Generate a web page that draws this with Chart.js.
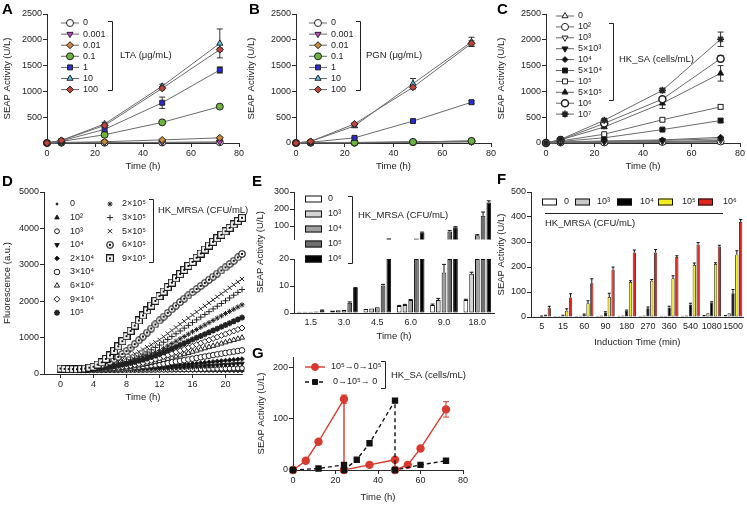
<!DOCTYPE html>
<html>
<head>
<meta charset="utf-8">
<title>SEAP reporter panels</title>
<script src="https://cdn.jsdelivr.net/npm/chart.js@4.4.1/dist/chart.umd.min.js"></script>
<style>
  html, body { margin: 0; padding: 0; background: #fff; }
  body { position: relative; width: 747px; height: 505px; overflow: hidden;
         font-family: "Liberation Sans", Arial, Helvetica, sans-serif; }
  canvas { position: absolute; }
  .tag { position: absolute; font-size: 15px; font-weight: bold; color: #000; line-height: 15px; }
</style>
</head>
<body>
<canvas id="chartA"></canvas>
<canvas id="chartB"></canvas>
<canvas id="chartC"></canvas>
<canvas id="chartD"></canvas>
<canvas id="chartEbot"></canvas>
<canvas id="chartEtop"></canvas>
<canvas id="chartF"></canvas>
<canvas id="chartG"></canvas>
<div class="tag" style="left:2px;top:1px">A</div>
<div class="tag" style="left:249px;top:1px">B</div>
<div class="tag" style="left:497px;top:1px">C</div>
<div class="tag" style="left:2px;top:173px">D</div>
<div class="tag" style="left:252px;top:173px">E</div>
<div class="tag" style="left:497px;top:171px">F</div>
<div class="tag" style="left:252px;top:345px">G</div>
<script>
// ---- data ----
const abcTimes = [0, 6, 24, 48, 72];

const ltaLabels = ['0', '0.001', '0.01', '0.1', '1', '10', '100'];
const ltaValues = [
  [0, 5, 5, 10, 15],
  [0, 5, 8, 12, 20],
  [0, 10, 25, 60, 100],
  [0, 30, 160, 400, 705],
  [0, 40, 265, 780, 1415],
  [0, 50, 370, 1100, 1930],
  [0, 50, 340, 1060, 1810]
];
const ltaErrors = [
  [0, 0, 0, 0, 0],
  [0, 0, 0, 0, 0],
  [0, 0, 0, 10, 15],
  [0, 0, 15, 20, 30],
  [0, 0, 40, 110, 60],
  [0, 0, 30, 40, 280],
  [0, 0, 20, 30, 30]
];

const pgnLabels = ['0', '0.001', '0.01', '0.1', '1', '10', '100'];
const pgnValues = [
  [0, 5, 5, 15, 30],
  [0, 5, 5, 15, 20],
  [0, 10, 10, 20, 40],
  [0, 10, 10, 20, 40],
  [0, 15, 100, 425, 790],
  [0, 30, 330, 1150, 1960],
  [0, 30, 370, 1080, 1930]
];
const pgnErrors = [
  [0, 0, 0, 0, 0],
  [0, 0, 0, 0, 0],
  [0, 0, 0, 0, 0],
  [0, 0, 0, 0, 0],
  [0, 0, 10, 20, 30],
  [0, 0, 30, 100, 90],
  [0, 0, 20, 30, 50]
];

const saLabels = ['0', '10²', '10³', '5×10³', '10⁴', '5×10⁴', '10⁵', '5×10⁵', '10⁶', '10⁷'];
const saValues = [
  [0, 5, 5, 10, 15],
  [0, 10, 10, 20, 30],
  [0, 10, 20, 30, 50],
  [0, 15, 30, 50, 80],
  [0, 20, 40, 60, 110],
  [0, 30, 100, 260, 435],
  [0, 40, 170, 450, 700],
  [0, 60, 310, 770, 1350],
  [0, 60, 380, 850, 1635],
  [0, 70, 440, 1020, 2010]
];
const saErrors = [
  [0, 0, 0, 0, 0],
  [0, 0, 0, 0, 0],
  [0, 0, 0, 0, 0],
  [0, 0, 0, 0, 0],
  [0, 0, 0, 0, 0],
  [0, 0, 10, 20, 40],
  [0, 0, 15, 30, 40],
  [0, 0, 20, 100, 150],
  [0, 0, 20, 40, 60],
  [0, 0, 20, 40, 140]
];

// D: fluorescence kinetics, every 0.5 h
const dTimes = [0, 0.5, 1, 1.5, 2, 2.5, 3, 3.5, 4, 4.5, 5, 5.5, 6, 6.5, 7, 7.5, 8, 8.5, 9, 9.5,
  10, 10.5, 11, 11.5, 12, 12.5, 13, 13.5, 14, 14.5, 15, 15.5, 16, 16.5, 17, 17.5, 18, 18.5, 19, 19.5,
  20, 20.5, 21, 21.5, 22];
const dXTicks = [0, 4, 8, 12, 16, 20];
const dLabels = ['0', '10²', '10³', '10⁴', '2×10⁴', '3×10⁴', '6×10⁴', '9×10⁴', '10⁵',
  '2×10⁵', '3×10⁵', '5×10⁵', '6×10⁵', '9×10⁵'];
const dS0 = [110,105, 100,98, 96,95, 94,93, 92,91,
  90,89, 88,87, 86,86, 85,85, 84,83,
  82,82, 81,81, 80,80, 79,79, 78,77,
  76,76, 75,75, 74,74, 73,73, 72,72,
  71,71, 70,69, 68];
const dS1 = [110,107, 105,102, 100,100, 100,100, 100,100,
  100,100, 100,100, 100,100, 100,100, 100,100,
  100,100, 100,101, 102,102, 102,103, 104,104,
  104,104, 105,105, 106,106, 107,107, 108,108,
  108,108, 109,109, 110];
const dS2 = [115,111, 108,106, 104,103, 102,102, 102,102,
  102,102, 103,103, 104,105, 106,107, 108,109,
  110,111, 112,113, 115,116, 118,120, 122,124,
  126,128, 130,132, 134,136, 139,141, 144,146,
  149,151, 154,157, 160];
const dS3 = [120,115, 110,108, 106,105, 105,105, 106,107,
  108,110, 112,114, 116,118, 121,124, 127,130,
  134,138, 142,146, 151,156, 161,166, 172,178,
  184,190, 197,204, 211,218, 226,233, 241,248,
  256,264, 272,281, 290];
const dS4 = [125,118, 112,110, 108,108, 108,109, 110,112,
  114,117, 120,124, 128,133, 138,144, 150,157,
  164,172, 180,188, 197,206, 216,226, 236,246,
  257,268, 279,290, 302,313, 325,336, 348,359,
  370,381, 392,402, 412];
const dS5 = [130,122, 115,112, 110,110, 111,113, 115,119,
  123,129, 135,142, 150,160, 170,181, 193,205,
  218,231, 244,258, 272,288, 305,323, 342,361,
  380,400, 420,440, 460,480, 500,520, 540,559,
  578,596, 615,632, 650];
const dS6 = [130,124, 118,115, 112,113, 114,116, 118,122,
  126,132, 138,146, 155,167, 180,196, 212,232,
  252,276, 300,327, 355,385, 415,447, 480,512,
  545,577, 610,642, 675,707, 740,772, 805,837,
  870,902, 935,967, 1000];
const dS7 = [135,127, 120,117, 114,115, 116,121, 126,133,
  140,148, 157,168, 180,196, 212,233, 255,281,
  308,339, 370,405, 440,480, 520,560, 600,641,
  683,724, 766,807, 849,890, 932,973, 1015,1056,
  1098,1139, 1181,1222, 1264];
const dS8 = [135,128, 122,120, 118,121, 124,131, 138,149,
  160,176, 192,211, 230,252, 275,302, 330,361,
  393,429, 465,505, 545,595, 645,695, 745,795,
  845,895, 945,995, 1045,1095, 1145,1195, 1245,1295,
  1345,1396, 1448,1499, 1550];
const dS9 = [140,132, 125,122, 120,124, 128,136, 145,158,
  172,190, 210,234, 260,289, 320,354, 390,428,
  468,510, 552,596, 640,705, 770,835, 900,965,
  1030,1095, 1160,1222, 1285,1347, 1410,1472, 1535,1597,
  1660,1720, 1780,1840, 1900];
const dS10 = [140,133, 126,124, 122,127, 132,140, 148,160,
  172,190, 210,236, 265,301, 340,386, 435,489,
  545,604, 665,729, 795,872, 950,1027, 1105,1182,
  1260,1336, 1412,1487, 1562,1637, 1712,1787, 1862,1937,
  2012,2088, 2165,2242, 2320];
const dS11 = [140,134, 128,126, 125,131, 138,151, 165,186,
  208,238, 268,306, 345,392, 440,495, 550,611,
  672,737, 802,870, 938,1024, 1110,1195, 1280,1365,
  1450,1535, 1620,1705, 1790,1872, 1955,2037, 2120,2202,
  2285,2367, 2450,2530, 2610];
const dS12 = [145,137, 130,129, 128,136, 145,165, 185,217,
  250,295, 340,405, 470,550, 630,725, 820,925,
  1030,1140, 1250,1360, 1470,1575, 1680,1780, 1880,1975,
  2070,2160, 2250,2335, 2420,2505, 2590,2675, 2760,2845,
  2930,3020, 3110,3205, 3300];
const dS13 = [150,142, 135,133, 132,141, 150,175, 200,260,
  320,415, 510,635, 760,900, 1040,1185, 1330,1470,
  1610,1745, 1880,2010, 2140,2265, 2390,2510, 2630,2745,
  2860,2970, 3080,3195, 3310,3420, 3530,3630, 3730,3825,
  3920,4015, 4110,4200, 4290];
const dSeries = [dS0, dS1, dS2, dS3, dS4, dS5, dS6, dS7, dS8, dS9, dS10, dS11, dS12, dS13];

// E: broken axis bars
const eCats = ['1.5', '3.0', '4.5', '6.0', '9.0', '18.0'];
const eLabels = ['0', '10³', '10⁴', '10⁵', '10⁶'];
const e0 = [0.5, 0.9, 1.5, 2.6, 3.0, 4.8];
const e3 = [0.5, 1.0, 1.7, 3.0, 4.8, 14.5];
const e4 = [0.5, 1.1, 2.1, 4.8, 15.0, 45];
const e5 = [0.6, 3.8, 10.2, 26, 68, 160];
const e6 = [1.0, 9.3, 28, 60, 92, 238];
const e0Err = [0, 0, 0, 0.2, 0.3, 0.3];
const e3Err = [0, 0, 0, 0.2, 0.6, 0.6];
const e4Err = [0, 0, 0, 0.2, 3, 4];
const e5Err = [0, 0.3, 0.4, 0, 5, 22];
const e6Err = [0.1, 0.1, 0, 4, 4, 10];
const eBreak = 20;

// F: induction time bars
const fCats = ['5', '15', '60', '90', '180', '270', '360', '540', '1080', '1500'];
const fLabels = ['0', '10³', '10⁴', '10⁵', '10⁶'];
const f0 = [3, 4, 4, 5, 5, 5, 5, 5, 8, 8];
const f3 = [3, 4, 5, 6, 6, 6, 5, 6, 15, 15];
const f4 = [3, 5, 10, 18, 25, 35, 38, 50, 58, 95];
const f5 = [5, 25, 55, 80, 140, 145, 155, 208, 212, 250];
const f6 = [35, 78, 135, 190, 258, 258, 240, 290, 282, 380];
const f4Err = [1, 2, 2, 3, 3, 5, 5, 5, 3, 15];
const f5Err = [2, 8, 10, 15, 5, 5, 10, 8, 5, 15];
const f6Err = [8, 15, 18, 10, 10, 12, 5, 8, 5, 10];

// G: switching experiment
const gRedTimes = [0, 6, 12, 24, 24, 36, 48, 48, 54, 60, 72];
const gRedValues = [0, 18, 55, 138, 0, 10, 20, 0, 10, 42, 118];
const gRedErrors = [0, 0, 0, 8, 0, 0, 0, 0, 0, 0, 15];
const gBlackTimes = [0, 12, 24, 24, 30, 36, 48, 48, 60, 72];
const gBlackValues = [0, 3, 10, 0, 20, 52, 135, 0, 10, 18];
const gYTicks = [0, 100, 200];

// ---- drawing ----
const FONT = '"Liberation Sans", Arial, Helvetica, sans-serif';
const AXIS = '#2a2a2a', TXT = '#222', RED = '#d93a2f';
Chart.defaults.font.family = FONT;
Chart.defaults.color = TXT;
Chart.defaults.animation = false;
Chart.defaults.plugins.legend.display = false;
Chart.defaults.plugins.tooltip.enabled = false;

const drawPoint = (Chart.helpers && Chart.helpers.drawPoint) ? Chart.helpers.drawPoint : function (ctx, o, x, y) {
  ctx.beginPath(); ctx.arc(x, y, o.radius, 0, Math.PI * 2); ctx.fill(); ctx.stroke();
};

function dotted(shape) {
  const c = document.createElement('canvas');
  c.width = 8; c.height = 8;
  const g = c.getContext('2d');
  g.fillStyle = '#fff'; g.strokeStyle = '#111'; g.lineWidth = 1.1;
  if (shape === 'circle') {
    g.beginPath(); g.arc(4, 4, 3.2, 0, Math.PI * 2); g.fill(); g.stroke();
  } else {
    g.fillRect(0.6, 0.6, 6.8, 6.8); g.strokeRect(0.6, 0.6, 6.8, 6.8);
  }
  g.fillStyle = '#111'; g.fillRect(3, 3, 2, 2);
  return c;
}

const abStyles = [
  {ps: 'circle', fill: '#ffffff'},
  {ps: 'triangle', rot: 180, fill: '#d442d4'},
  {ps: 'rectRot', fill: '#c48a3a'},
  {ps: 'circle', fill: '#6cb33f'},
  {ps: 'rect', fill: '#2b2bd6'},
  {ps: 'triangle', fill: '#5fc6ee'},
  {ps: 'rectRot', fill: '#c0433a'}
];
const cStyles = [
  {ps: 'triangle', fill: '#fff'},
  {ps: 'circle', fill: '#fff'},
  {ps: 'triangle', rot: 180, fill: '#fff'},
  {ps: 'triangle', rot: 180, fill: '#111'},
  {ps: 'rectRot', r: 3, fill: '#111'},
  {ps: 'rect', fill: '#111'},
  {ps: 'rect', fill: '#fff'},
  {ps: 'triangle', fill: '#111'},
  {ps: 'circle', fill: '#fff', bw: 1.5},
  {ps: 'star', fill: '#111', bw: 1.6}
];
const dStyles = [
  {ps: 'circle', r: 1, fill: '#111'},
  {ps: 'triangle', r: 2.6, fill: '#111'},
  {ps: 'circle', r: 2.4, fill: '#fff'},
  {ps: 'triangle', rot: 180, r: 2.6, fill: '#111'},
  {ps: 'rectRot', r: 2.3, fill: '#111'},
  {ps: 'circle', r: 2.8, fill: '#fff'},
  {ps: 'triangle', r: 3, fill: '#fff'},
  {ps: 'rectRot', r: 3, fill: '#fff'},
  {ps: 'star', r: 3, fill: '#111', bw: 1.6},
  {ps: 'star', r: 2.6, fill: '#111'},
  {ps: 'cross', r: 3, fill: '#111'},
  {ps: 'crossRot', r: 3, fill: '#111'},
  {ps: dotted('circle'), r: 4, fill: '#fff'},
  {ps: dotted('square'), r: 4, fill: '#fff'}
];
const eFills = ['#ffffff', '#d4d4d4', '#a0a0a0', '#6e6e6e', '#000000'];
const fFills = ['#ffffff', '#c8c8c8', '#000000', '#f2ee1f', '#e0241b'];

function pointOpts(st) {
  return {
    pointStyle: st.ps, pointRadius: st.r || 3.5, pointRotation: st.rot || 0,
    pointBackgroundColor: st.fill, pointBorderColor: st.stroke || '#222',
    pointBorderWidth: st.bw || 1, pointHoverRadius: st.r || 3.5
  };
}

function linAxis(min, max, step, title, fixed, hideZero) {
  const a = {
    type: 'linear', min: min, max: max,
    ticks: {stepSize: step, color: TXT, font: {size: 9}, padding: 1,
      callback: v => (hideZero && v === 0) ? '' : String(v)},
    border: {display: true, color: AXIS, width: 1},
    grid: {drawOnChartArea: false, tickLength: 4, color: AXIS},
    title: {display: !!title, text: title, color: TXT, font: {size: 9.5}, padding: {top: 2, bottom: 1}}
  };
  if (fixed) a.afterBuildTicks = s => { s.ticks = fixed.map(v => ({value: v})); };
  return a;
}

function catAxis(title) {
  return {
    type: 'category',
    ticks: {color: TXT, font: {size: 9}, padding: 4, autoSkip: false, maxRotation: 0},
    border: {display: true, color: AXIS, width: 1},
    grid: {display: false, drawOnChartArea: false, drawTicks: false},
    title: {display: !!title, text: title, color: TXT, font: {size: 9.5}, padding: {top: 2, bottom: 1}}
  };
}

// error bars drawn through the chart scales
const errorBars = {
  id: 'errorBars',
  beforeDatasetsDraw(chart) {
    const ctx = chart.ctx;
    chart.data.datasets.forEach((ds, i) => {
      if (!ds.errors) return;
      const meta = chart.getDatasetMeta(i);
      const ys = chart.scales[meta.yAxisID];
      ctx.save();
      ctx.strokeStyle = ds.errColor || '#222';
      ctx.lineWidth = 1;
      meta.data.forEach((el, j) => {
        const e = ds.errors[j];
        const raw = ds.data[j];
        const v = (raw && typeof raw === 'object') ? raw.y : raw;
        if (!e || v == null) return;
        const cap = ds.errCap || 3;
        const x = el.x;
        const y1 = ys.getPixelForValue(v + e);
        const y0 = ds.errUp ? el.y : ys.getPixelForValue(v - e);
        ctx.beginPath();
        ctx.moveTo(x, y0); ctx.lineTo(x, y1);
        ctx.moveTo(x - cap, y1); ctx.lineTo(x + cap, y1);
        if (!ds.errUp) { ctx.moveTo(x - cap, y0); ctx.lineTo(x + cap, y0); }
        ctx.stroke();
      });
      ctx.restore();
    });
  }
};

// custom legends, brackets and free texts (page coordinates)
const legends = {};
const panelLegend = {
  id: 'panelLegend',
  afterDraw(chart) {
    const L = legends[chart.canvas.id];
    if (!L) return;
    const ctx = chart.ctx;
    ctx.save();
    ctx.translate(-L.ox, -L.oy);
    ctx.font = (L.size || 9) + 'px ' + FONT;
    ctx.textBaseline = 'middle';
    ctx.textAlign = 'left';
    (L.marks || []).forEach(m => {
      if (m.line) {
        ctx.strokeStyle = m.line; ctx.lineWidth = m.lw || 1; ctx.setLineDash(m.dash || []);
        ctx.beginPath(); ctx.moveTo(m.x - (m.half || 9), m.y); ctx.lineTo(m.x + (m.half || 9), m.y); ctx.stroke();
        ctx.setLineDash([]);
      }
      if (m.box) {
        ctx.fillStyle = m.fill; ctx.fillRect(m.x, m.y - m.box[1] / 2, m.box[0], m.box[1]);
        ctx.strokeStyle = '#111'; ctx.lineWidth = 1;
        ctx.strokeRect(m.x + 0.5, m.y - m.box[1] / 2 + 0.5, m.box[0] - 1, m.box[1] - 1);
      } else if (m.st) {
        ctx.fillStyle = m.st.fill || '#111';
        ctx.strokeStyle = m.st.stroke || '#222';
        ctx.lineWidth = m.st.bw || 1;
        drawPoint(ctx, {pointStyle: m.st.ps, radius: m.st.r || 3.5, rotation: m.st.rot || 0,
          borderWidth: m.st.bw || 1}, m.x, m.y);
      }
      if (m.text) { ctx.fillStyle = TXT; ctx.fillText(m.text, m.tx, m.y); }
    });
    ctx.strokeStyle = '#222'; ctx.lineWidth = 1;
    (L.brackets || []).forEach(b => {
      ctx.beginPath();
      ctx.moveTo(b.x - 4, b.y1 + 0.5); ctx.lineTo(b.x + 0.5, b.y1 + 0.5);
      ctx.lineTo(b.x + 0.5, b.y2 + 0.5); ctx.lineTo(b.x - 4, b.y2 + 0.5);
      ctx.stroke();
    });
    (L.segs || []).forEach(s => {
      ctx.beginPath(); ctx.moveTo(s[0], s[1]); ctx.lineTo(s[2], s[3]); ctx.stroke();
    });
    ctx.font = '9.5px ' + FONT;
    ctx.fillStyle = TXT;
    (L.texts || []).forEach(t => ctx.fillText(t.text, t.x, t.y));
    (L.vtexts || []).forEach(t => {
      ctx.save(); ctx.translate(t.x, t.y); ctx.rotate(-Math.PI / 2);
      ctx.textAlign = 'center'; ctx.fillText(t.text, 0, 0); ctx.restore();
    });
    ctx.restore();
  }
};
Chart.register(errorBars, panelLegend);

// place a chart so that its plot area sits at box.l..box.r, box.t..box.b on the page
function panel(id, box, cfg, legend) {
  const cv = document.getElementById(id);
  const ox = box.l - box.yw, oy = box.t - box.pt;
  cv.width = box.r - box.l + box.yw + box.pr;
  cv.height = box.b - box.t + box.pt + box.xh;
  cv.style.left = ox + 'px';
  cv.style.top = oy + 'px';
  if (legend) legends[id] = Object.assign(legend, {ox: ox, oy: oy});
  const o = cfg.options;
  o.responsive = false;
  o.animation = false;
  o.layout = {padding: {left: 0, top: box.pt, right: box.pr, bottom: 0}};
  o.scales.x.afterFit = s => { s.height = box.xh; };
  o.scales.y.afterFit = s => { s.width = box.yw; };
  return new Chart(cv, cfg);
}

function timeCourse(id, box, labels, values, errors, styles, legend) {
  return panel(id, box, {
    type: 'line',
    data: {
      datasets: values.map((vals, i) => Object.assign({
        label: labels[i],
        data: abcTimes.map((t, j) => ({x: t, y: vals[j]})),
        errors: errors[i], errColor: '#333',
        borderColor: '#6b6b6b', borderWidth: 1, tension: 0, fill: false, clip: false, order: -i
      }, pointOpts(styles[i])))
    },
    options: {
      scales: {
        x: linAxis(0, 80, 20, 'Time (h)'),
        y: linAxis(0, 2500, 500, 'SEAP Activity (U/L)', null, box.hideZero)
      }
    }
  }, legend);
}

function markLegend(labels, styles, mx, tx, y0, dy, line) {
  return labels.map((lab, i) => ({x: mx, y: y0 + dy * i, st: styles[i], text: lab, tx: tx, line: line}));
}

// A
timeCourse('chartA', {l: 47, t: 14, r: 239, b: 143, yw: 47, xh: 30, pt: 12, pr: 9, hideZero: true},
  ltaLabels, ltaValues, ltaErrors, abStyles, {
    marks: markLegend(ltaLabels, abStyles, 70, 83, 23, 11.1, '#666'),
    brackets: [{x: 112, y1: 21, y2: 90}],
    texts: [{x: 120, y: 55, text: 'LTA (μg/mL)'}]
  });

// B
timeCourse('chartB', {l: 296, t: 14, r: 491, b: 143, yw: 52, xh: 30, pt: 12, pr: 9},
  pgnLabels, pgnValues, pgnErrors, abStyles, {
    marks: markLegend(pgnLabels, abStyles, 318, 331, 23, 11.1, '#666'),
    brackets: [{x: 360, y1: 21, y2: 90}],
    texts: [{x: 366, y: 55, text: 'PGN (μg/mL)'}]
  });

// C
timeCourse('chartC', {l: 546, t: 14, r: 740, b: 143, yw: 52, xh: 30, pt: 12, pr: 9},
  saLabels, saValues, saErrors, cStyles, {
    marks: markLegend(saLabels, cStyles, 565, 578, 16, 10.9, '#666'),
    brackets: [{x: 613, y1: 23, y2: 100}],
    texts: [{x: 619, y: 59, text: 'HK_SA (cells/mL)'}]
  });

// D
const dLegendMarks = dLabels.map((lab, i) => i < 9
  ? {x: 57, y: 204 + 13.6 * i, st: dStyles[i], text: lab, tx: 70}
  : {x: 110, y: 204 + 13.6 * (i - 9), st: dStyles[i], text: lab, tx: 122});
panel('chartD', {l: 44, t: 192, r: 242, b: 374, yw: 44, xh: 30, pt: 12, pr: 10}, {
  type: 'scatter',
  data: {
    datasets: dSeries.map((vals, i) => Object.assign({
      label: dLabels[i],
      data: dTimes.map((t, j) => ({x: t, y: vals[j]})),
      showLine: false, clip: false, order: -i
    }, pointOpts(dStyles[i])))
  },
  options: {
    scales: {
      x: linAxis(-2, 22, 4, 'Time (h)', dXTicks),
      y: linAxis(0, 5000, 1000, 'Fluorescence (a.u.)')
    }
  }
}, {
  marks: dLegendMarks,
  brackets: [{x: 153, y1: 199, y2: 262}],
  texts: [{x: 158, y: 210, text: 'HK_MRSA (CFU/mL)'}]
});

// E (two stacked segments of one broken axis)
const eAll = [e0, e3, e4, e5, e6];
const eErrAll = [e0Err, e3Err, e4Err, e5Err, e6Err];
function eBars(upper) {
  return eAll.map((vals, k) => ({
    label: eLabels[k],
    data: vals.map(v => upper ? (v > eBreak ? v : null) : Math.min(v, eBreak)),
    errors: eErrAll[k].map((e, i) => (upper ? vals[i] > eBreak : vals[i] <= eBreak) ? e : 0),
    errUp: true, errCap: 2, errColor: '#111',
    backgroundColor: eFills[k], borderColor: '#111', borderWidth: 1, borderSkipped: false,
    barPercentage: 0.82, categoryPercentage: 0.86
  }));
}
panel('chartEbot', {l: 294, t: 259, r: 494, b: 313, yw: 42, xh: 30, pt: 73, pr: 4}, {
  type: 'bar',
  data: {labels: eCats, datasets: eBars(false)},
  options: {scales: {x: catAxis('Time (h)'), y: linAxis(0, eBreak, 5, '')}}
}, {
  marks: eLabels.map((lab, i) => ({x: 305, y: 199 + 15 * i, box: [17, 7], fill: eFills[i], text: lab, tx: 328})),
  brackets: [{x: 352, y1: 196, y2: 263}],
  texts: [{x: 358, y: 215, text: 'HK_MRSA (CFU/mL)'}],
  vtexts: [{x: 260, y: 252, text: 'SEAP Activity (U/L)'}]
});
const eTopAxis = linAxis(eBreak, 300, 100, '', [100, 200, 300]);
const eTopX = catAxis('');
eTopX.display = false;
panel('chartEtop', {l: 294, t: 192, r: 494, b: 246, yw: 42, xh: 0, pt: 8, pr: 4}, {
  type: 'bar',
  data: {labels: eCats, datasets: eBars(true)},
  options: {scales: {x: eTopX, y: eTopAxis}}
}, {
  segs: [[288, 246.5, 298, 246.5]]
});

// F
const fAll = [f0, f3, f4, f5, f6];
const fErrAll = [null, null, f4Err, f5Err, f6Err];
const fBoxX = [542, 575, 617, 658, 698];
const fTextX = [564, 597, 640, 682, 723];
panel('chartF', {l: 531, t: 192, r: 747, b: 317, yw: 37, xh: 32, pt: 8, pr: 0}, {
  type: 'bar',
  data: {
    labels: fCats,
    datasets: fAll.map((vals, k) => ({
      label: fLabels[k], data: vals, errors: fErrAll[k], errUp: true, errCap: 1.5, errColor: '#111',
      backgroundColor: fFills[k], borderColor: '#111', borderWidth: 0.8, borderSkipped: false,
      barPercentage: 0.85, categoryPercentage: 0.9
    }))
  },
  options: {scales: {x: catAxis('Induction Time (min)'), y: linAxis(0, 500, 100, 'SEAP Activity (U/L)')}}
}, {
  marks: fLabels.map((lab, i) => ({x: fBoxX[i], y: 202, box: [15, 7], fill: fFills[i], text: lab, tx: fTextX[i]})),
  segs: [[545, 213.5, 723, 213.5]],
  texts: [{x: 545, y: 223, text: 'HK_MRSA (CFU/mL)'}]
});

// G
panel('chartG', {l: 293, t: 357, r: 463, b: 470, yw: 39, xh: 34, pt: 8, pr: 10}, {
  type: 'line',
  data: {
    datasets: [
      {
        label: '10⁵→0→10⁵',
        data: gRedTimes.map((t, j) => ({x: t, y: gRedValues[j]})),
        errors: gRedErrors, errColor: RED,
        borderColor: RED, borderWidth: 1.4, tension: 0, clip: false, order: 0,
        pointStyle: 'circle', pointRadius: 3.5, pointBackgroundColor: RED, pointBorderColor: RED
      },
      {
        label: '0→10⁵→0',
        data: gBlackTimes.map((t, j) => ({x: t, y: gBlackValues[j]})),
        borderColor: '#111', borderWidth: 1.4, borderDash: [4, 3], tension: 0, clip: false, order: -1,
        pointStyle: 'rect', pointRadius: 3.5, pointBackgroundColor: '#111', pointBorderColor: '#111'
      }
    ]
  },
  options: {scales: {x: linAxis(0, 80, 20, 'Time (h)'), y: linAxis(0, 220, 100, 'SEAP Activity (U/L)', gYTicks)}}
}, {
  marks: [
    {x: 315, y: 367, st: {ps: 'circle', r: 3.5, fill: RED, stroke: RED}, line: RED, lw: 1.4, half: 10,
      text: '10⁵→0→10⁵', tx: 331},
    {x: 315, y: 382, st: {ps: 'rect', r: 3.5, fill: '#111', stroke: '#111'}, line: '#111', lw: 1.4, dash: [4, 3],
      half: 10, text: '0→10⁵→ 0', tx: 333}
  ],
  brackets: [{x: 385, y1: 361, y2: 388}],
  texts: [{x: 391, y: 375, text: 'HK_SA (cells/mL)'}]
});
</script>
</body>
</html>
